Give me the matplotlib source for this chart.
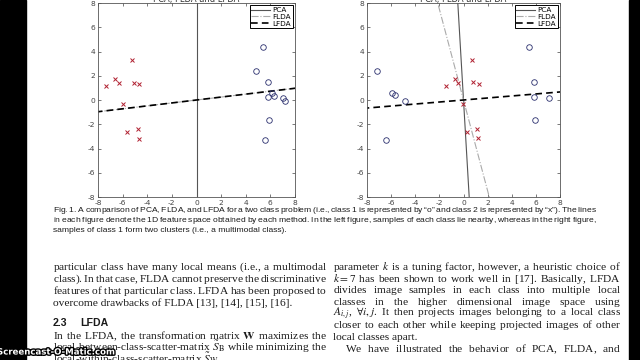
import numpy as np
import matplotlib
matplotlib.use('Agg')
import matplotlib.pyplot as plt
import matplotlib.patheffects as pe
from matplotlib.patches import Rectangle

W, H = 640, 360

# class 1 ("o") and class 2 ("x"), left panel
left_o_x = [5.37, 4.82, 5.78, 6.11, 6.27, 5.84, 7.04, 7.15, 5.86, 5.53]
left_o_y = [4.36, 2.38, 1.46, 0.61, 0.36, 0.22, 0.14, -0.06, -1.66, -3.34]
left_x_x = [-7.34, -6.58, -6.30, -5.21, -5.10, -4.63, -5.95, -5.62, -4.74, -4.68]
left_x_y = [1.13, 1.71, 1.38, 3.26, 1.44, 1.35, -0.33, -2.68, -2.40, -3.18]

# right panel (class 1 split in two clusters)
right_o_x = [5.42, 5.81, 5.87, 7.06, 5.92, -7.17, -5.92, -5.67, -4.81, -6.44]
right_o_y = [4.39, 1.49, 0.22, 0.14, -1.63, 2.40, 0.61, 0.39, -0.06, -3.31]
right_x_x = [-1.46, -0.71, -0.43, 0.71, 0.79, 1.29, -0.07, 0.26, 1.15, 1.23]
right_x_y = [1.16, 1.74, 1.41, 3.29, 1.46, 1.35, -0.30, -2.65, -2.38, -3.15]

# 1D projection directions (dx, dy), lines go through the origin
methods = ['PCA', 'FLDA', 'LFDA']
left_dirs = [(0.0, 1.0), (1.0, 0.121), (1.0, 0.121)]
right_dirs = [(-0.059, 1.0), (-0.267, 1.0), (1.0, 0.083)]

ticks = [-8, -6, -4, -2, 0, 2, 4, 6, 8]

caption = [
    'Fig. 1. A comparison of PCA, FLDA, and LFDA for a two class problem (i.e., class 1 is represented by \u201co\u201d and class 2 is represented by \u201cx\u201d). The lines',
    'in each figure denote the 1D feature space obtained by each method. In the left figure, samples of each class lie nearby, whereas in the right figure,',
    'samples of class 1 form two clusters (i.e., a multimodal class).',
]
left_col = [
    'particular class have many local means (i.e., a multimodal',
    'class). In that case, FLDA cannot preserve the discriminative',
    'features of that particular class. LFDA has been proposed to',
    'overcome drawbacks of FLDA [13], [14], [15], [16].',
]
left_col2 = [
    r'In the LFDA, the transformation matrix $\mathbf{W}$ maximizes the',
    r'local-between-class-scatter-matrix $\tilde{S}_\mathrm{B}$ while minimizing the',
    r'local-within-class-scatter-matrix $\tilde{S}_\mathrm{W}$',
]
right_col = [
    r'parameter $k$ is a tuning factor, however, a heuristic choice of',
    r'$k=7$ has been shown to work well in [17]. Basically, LFDA',
    'divides image samples in each class into multiple local',
    'classes in the higher dimensional image space using',
    r'$A_{i,j}$, $\forall{i},j$. It then projects images belonging to a local class',
    'closer to each other while keeping projected images of other',
    'local classes apart.',
    'We have illustrated the behavior of PCA, FLDA, and',
]

plt.rcParams['mathtext.fontset'] = 'stix'
plt.rcParams['axes.unicode_minus'] = False

fig = plt.figure(figsize=(6.4, 3.6), dpi=100)
fig.patch.set_facecolor('white')
renderer = fig.canvas.get_renderer()

# black borders of the screen recording
fig.add_artist(Rectangle((0, 0), 26 / W, 1, transform=fig.transFigure, color='black', zorder=0))
fig.add_artist(Rectangle((629 / W, 0), 11 / W, 1, transform=fig.transFigure, color='black', zorder=0))


def px_axes(x0, x1, y0, y1):
    return fig.add_axes([x0 / W, 1 - y1 / H, (x1 - x0) / W, (y1 - y0) / H])


styles = [dict(color='#555555', lw=0.8, ls='-'),
          dict(color='#aaaaaa', lw=0.8, ls='-.'),
          dict(color='black', lw=1.2, ls=(0, (4, 2.5)))]


def panel(ax, ox, oy, xx, xy, dirs):
    t = np.array([-20.0, 20.0])
    for name, d, st in zip(methods, dirs, styles):
        ax.plot(t * d[0], t * d[1], label=name, **st)
    ax.plot(ox, oy, 'o', mfc='none', mec='#2a2f6e', ms=4.0, mew=0.6, ls='none')
    ax.plot(xx, xy, 'x', color='#b02030', ms=3.2, mew=0.7, ls='none')
    ax.set_xlim(-8, 8)
    ax.set_ylim(-8, 8)
    ax.set_xticks(ticks)
    ax.set_yticks(ticks)
    ax.tick_params(direction='in', labelsize=5.4, length=2, width=0.5,
                   colors='#444444', pad=2, top=True, right=True)
    for s in ax.spines.values():
        s.set_linewidth(0.6)
        s.set_color('#555555')
    leg = ax.legend(loc='upper right', fontsize=5.2, fancybox=False, framealpha=1,
                    edgecolor='black', handlelength=2.6, borderpad=0.25,
                    labelspacing=0.1, handletextpad=0.3, borderaxespad=0.3)
    leg.get_frame().set_linewidth(0.7)
    ax.set_title('PCA, FLDA and LFDA', fontsize=6, pad=0.5, color='#333333')


panel(px_axes(98, 295, 3, 197), left_o_x, left_o_y, left_x_x, left_x_y, left_dirs)
panel(px_axes(367, 560, 3, 197), right_o_x, right_o_y, right_x_x, right_x_y, right_dirs)


def text_line(s, x0, base, x1=None, size=7, family='Liberation Serif'):
    t = fig.text(x0 / W, 1 - base / H, s, fontsize=size, family=family,
                 va='baseline', color='#1a1a1a')
    words = s.split()
    if x1 is None or len(words) < 2:
        return

    # justify: word gaps become mathtext \hspace, solved so the line ends at x1
    def width(g):
        t.set_text((r'$\hspace{%.4f}$' % g).join(words))
        return t.get_window_extent(renderer).width

    w0, w1 = width(0.0), width(1.0)
    width((x1 - x0 - w0) / (w1 - w0))


# caption
for i, s in enumerate(caption):
    text_line(s, 53, 212.5 + 9.5 * i, 597 if i < 2 else None, size=6.1, family='Liberation Sans')

# left column
body = 8.2
for i, s in enumerate(left_col):
    text_line(s, 53, 270 + 11.9 * i, 327 if i < 3 else None, size=body)
fig.text(53 / W, 1 - 325.5 / H, '2.3', fontsize=7.6, weight='bold', family='Liberation Sans',
         va='baseline', color='#1a1a1a')
fig.text(80 / W, 1 - 325.5 / H, 'LFDA', fontsize=7.6, weight='bold', family='Liberation Sans',
         va='baseline', color='#1a1a1a')
for i, s in enumerate(left_col2):
    text_line(s, 53, 339 + 12 * i, 327 if i < 2 else None, size=body)

# right column
for i, s in enumerate(right_col):
    x0 = 345 if i == 7 else 333
    text_line(s, x0, 270 + 11.7 * i, None if i == 6 else 621, size=body)

# watermark
fig.text(-3 / W, 1 - 352 / H, 'Screencast-O-Matic.com', fontsize=6.2, weight='bold',
         family='DejaVu Sans', color='white', va='center',
         path_effects=[pe.withStroke(linewidth=2, foreground='black')], zorder=10)

fig.savefig('out.png', dpi=100)
